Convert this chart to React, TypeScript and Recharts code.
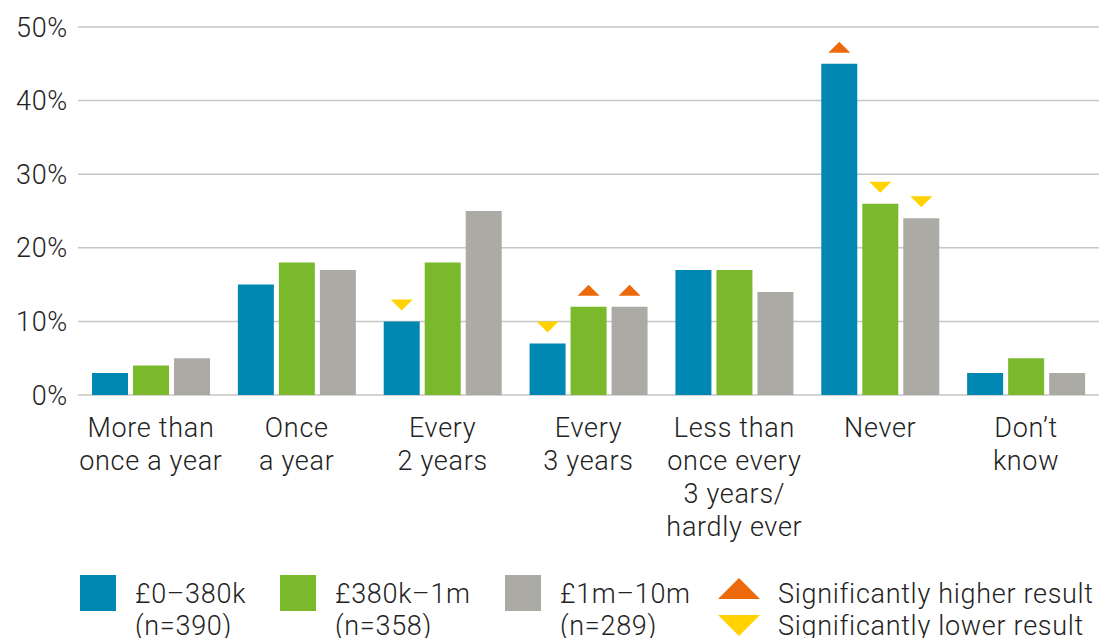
import { BarChart, Bar, XAxis, YAxis, CartesianGrid, LabelList } from 'recharts';

// category labels, one entry per line
const categories = [
  'More than|once a year',
  'Once|a year',
  'Every|2 years',
  'Every|3 years',
  'Less than|once every|3 years/|hardly ever',
  'Never',
  'Don’t|know',
];
const band0to380k = [3, 15, 10, 7, 17, 45, 3];
const band380kto1m = [4, 18, 18, 12, 17, 26, 5];
const band1mto10m = [5, 17, 25, 12, 14, 24, 3];
// significance markers: 'up' = higher, 'down' = lower
const sig0to380k = ['', '', 'down', 'down', '', 'up', ''];
const sig380kto1m = ['', '', '', 'up', '', 'down', ''];
const sig1mto10m = ['', '', '', 'up', '', 'down', ''];
const yTicks = [0, 10, 20, 30, 40, 50];

const BLUE = '#0088b2';
const GREEN = '#7ab92c';
const GREY = '#acaaa5';
const ORANGE = '#ec6a0c';
const YELLOW = '#ffd200';
const TEXT = '#232323';
const FONT = 'Roboto, "Liberation Sans", sans-serif';
const FS = 27;
const LS = 0.7;

const data = categories.map((c, i) => ({
  name: c,
  a: band0to380k[i],
  b: band380kto1m[i],
  c: band1mto10m[i],
  sa: sig0to380k[i],
  sb: sig380kto1m[i],
  sc: sig1mto10m[i],
}));

function CategoryTick(props: any) {
  const { x, y, payload } = props;
  const lines = String(payload.value).split('|');
  return (
    <text x={x} y={y + 42} textAnchor="middle" fill={TEXT} fontSize={FS} fontWeight={300} fontFamily={FONT} letterSpacing={LS}>
      {lines.map((l, i) => (
        <tspan key={i} x={x} dy={i === 0 ? 0 : 33}>
          {l}
        </tspan>
      ))}
    </text>
  );
}

function SigMarker(props: any) {
  const { x, y, width, value } = props;
  if (!value) return null;
  const cx = x + width / 2;
  const bottom = y - 11;
  const top = y - 22;
  const pts =
    value === 'up'
      ? `${cx - 11},${bottom} ${cx + 11},${bottom} ${cx},${top}`
      : `${cx - 11},${top} ${cx + 11},${top} ${cx},${bottom}`;
  return <polygon points={pts} fill={value === 'up' ? ORANGE : YELLOW} />;
}

const legendSeries = [
  { label: '£0–380k', n: '(n=390)', color: BLUE, x: 80 },
  { label: '£380k–1m', n: '(n=358)', color: GREEN, x: 280 },
  { label: '£1m–10m', n: '(n=289)', color: GREY, x: 505 },
];

export default function App() {
  return (
    <div style={{ position: 'absolute', left: 0, top: 0, width: 1099, height: 638, background: '#fff', overflow: 'hidden' }}>
      <BarChart
        width={1099}
        height={560}
        data={data}
        margin={{ top: 27, right: 0, left: 0, bottom: 0 }}
        barSize={36}
        barGap={5}
      >
        <CartesianGrid vertical={false} stroke="#c6c6c6" strokeWidth={1.5} />
        <XAxis
          dataKey="name"
          axisLine={false}
          tickLine={false}
          tickSize={0}
          tickMargin={0}
          height={165}
          interval={0}
          tick={<CategoryTick />}
        />
        <YAxis
          width={78}
          domain={[0, 50]}
          ticks={yTicks}
          axisLine={false}
          tickLine={false}
          tickSize={0}
          tickMargin={10}
          tickFormatter={(v: number) => `${v}%`}
          tick={{ fill: TEXT, fontSize: FS, fontWeight: 300, fontFamily: FONT, letterSpacing: LS }}
        />
        <Bar dataKey="a" fill={BLUE} isAnimationActive={false}>
          <LabelList dataKey="sa" content={<SigMarker />} />
        </Bar>
        <Bar dataKey="b" fill={GREEN} isAnimationActive={false}>
          <LabelList dataKey="sb" content={<SigMarker />} />
        </Bar>
        <Bar dataKey="c" fill={GREY} isAnimationActive={false}>
          <LabelList dataKey="sc" content={<SigMarker />} />
        </Bar>
      </BarChart>
      <svg width={1099} height={78} style={{ position: 'absolute', left: 0, top: 560 }}>
        <g fontFamily={FONT} fontSize={FS} fontWeight={300} fill={TEXT} letterSpacing={LS}>
          {legendSeries.map((s) => (
            <g key={s.label}>
              <rect x={s.x} y={15} width={36} height={36} fill={s.color} />
              <text x={s.x + 55} y={43}>{s.label}</text>
              <text x={s.x + 55} y={75}>{s.n}</text>
            </g>
          ))}
          <polygon points="718,39 760,39 739,18" fill={ORANGE} />
          <polygon points="718,55 760,55 739,76" fill={YELLOW} />
          <text x={778} y={43}>Significantly higher result</text>
          <text x={778} y={75}>Significantly lower result</text>
        </g>
      </svg>
    </div>
  );
}
